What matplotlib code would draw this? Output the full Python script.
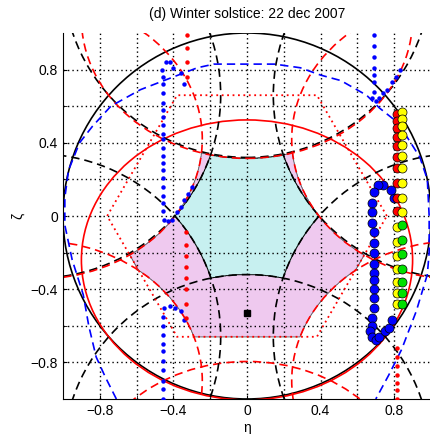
import numpy as np
import matplotlib
matplotlib.use("Agg")
import matplotlib.pyplot as plt
from matplotlib.patches import Ellipse, Circle, Polygon
from matplotlib.path import Path

plt.rcParams['font.family'] = ['Liberation Sans', 'DejaVu Sans']

# alias centres of the hexagonal grid (director cosines)
alias_eta = [0.0, 1.143, 1.143, 0.0, -1.143, -1.143]
alias_zeta = [1.32, 0.66, -0.66, -1.32, -0.66, 0.66]

# earth contour (ellipse): centre zeta, semi axes
earth_zeta0 = -0.24
earth_a = 0.90
earth_b = 0.765

# red dotted hexagon
hex_eta = [0.76, 0.38, -0.38, -0.76, -0.38, 0.38]
hex_zeta = [0.0, 0.66, 0.66, 0.0, -0.66, -0.66]

# blue dashed contour
blue_eta = [-0.71, -0.77, -0.82, -0.86, -0.89, -0.95, -0.99, -0.99, -0.97, -0.91, -0.84, -0.74,
            -0.58, -0.40, -0.27, -0.18, 0.15, 0.29, 0.40, 0.51, 0.65, 0.72, 0.82, 0.89, 0.94,
            0.98, 0.99, 0.99, 0.98, 0.92, 0.84, 0.77, 0.70]
blue_zeta = [-1.0, -0.88, -0.77, -0.60, -0.43, -0.24, -0.05, 0.10, 0.25, 0.40, 0.49, 0.60,
             0.69, 0.76, 0.81, 0.83, 0.83, 0.81, 0.77, 0.74, 0.66, 0.59, 0.51, 0.40, 0.32,
             0.20, 0.0, -0.20, -0.32, -0.52, -0.73, -0.87, -1.0]

# small blue dots, upper left track
b1_eta = [-0.34, -0.36, -0.40, -0.42, -0.44, -0.46] + [-0.455] * 18 + \
         [-0.45, -0.43, -0.41, -0.38, -0.36, -0.34, -0.32, -0.30]
b1_zeta = [0.72, 0.78, 0.81, 0.84, 0.84, 0.80,
           0.76, 0.72, 0.67, 0.62, 0.58, 0.54, 0.50, 0.45, 0.42, 0.37, 0.33, 0.29, 0.25,
           0.21, 0.16, 0.11, 0.07, 0.03,
           -0.02, -0.03, -0.02, 0.02, 0.05, 0.09, 0.12, 0.16]
# small blue dots, lower left track
b2_eta = [-0.45, -0.42, -0.39, -0.36, -0.34] + [-0.455] * 10
b2_zeta = [-0.50, -0.49, -0.50, -0.52, -0.57,
           -0.55, -0.60, -0.65, -0.70, -0.74, -0.79, -0.84, -0.90, -0.945, -1.0]
# small blue dots, upper right track
b3_eta = [0.69] * 7 + [0.68, 0.70, 0.72, 0.74, 0.76, 0.79, 0.81, 0.83]
b3_zeta = [0.99, 0.93, 0.87, 0.81, 0.77, 0.73, 0.68,
           0.645, 0.63, 0.645, 0.67, 0.69, 0.73, 0.76, 0.80]
# large blue circles, right track
b4_eta = [0.80, 0.78, 0.74, 0.71, 0.69, 0.68, 0.68, 0.68, 0.69, 0.69, 0.69, 0.69, 0.69,
          0.69, 0.69, 0.69, 0.69, 0.68, 0.68, 0.67, 0.68, 0.70, 0.72, 0.75, 0.77, 0.79]
b4_zeta = [0.10, 0.14, 0.17, 0.17, 0.13, 0.07, 0.02, -0.04, -0.09, -0.15, -0.20, -0.26,
           -0.31, -0.35, -0.40, -0.45, -0.50, -0.56, -0.60, -0.63, -0.66, -0.68, -0.66,
           -0.63, -0.61, -0.57]

# small red dots
r_eta = [-0.325] * 4 + [-0.33] * 8 + [0.815] * 7
r_zeta = [0.99, 0.92, 0.84, 0.76,
          -0.09, -0.16, -0.22, -0.28, -0.34, -0.40, -0.48, -0.56,
          -0.72, -0.77, -0.82, -0.87, -0.91, -0.95, -1.0]

# coloured circles near eta = 0.8
red_c_eta = [0.815] * 10
red_c_zeta = [0.56, 0.52, 0.48, 0.43, 0.38, 0.32, 0.26, 0.18, 0.10, 0.03]
yel_c_eta = [0.84] * 10 + [0.815] * 7
yel_c_zeta = [0.57, 0.53, 0.49, 0.44, 0.39, 0.33, 0.26, 0.18, 0.10, 0.02,
              -0.06, -0.14, -0.22, -0.29, -0.36, -0.42, -0.48]
grn_c_eta = [0.845] * 7
grn_c_zeta = [-0.05, -0.13, -0.21, -0.29, -0.36, -0.42, -0.48]

# boresight marker
sq_eta = [0.0]
sq_zeta = [-0.53]

ticks = [-0.8, -0.4, 0, 0.4, 0.8]
minor = [-0.6, -0.2, 0.2, 0.6]

pink_col = '#efc9ef'
cyan_col = '#c7f0f0'

fig = plt.figure(figsize=(4.30, 4.34), dpi=100)
ax = fig.add_axes([63 / 430, 35 / 434, 368 / 430, 366 / 434])

# alias free regions
g = np.linspace(-1, 1, 1201)
E, Z = np.meshgrid(g, g)
pts = np.column_stack([E.ravel(), Z.ravel()])
inside_hex = Path(np.column_stack([hex_eta, hex_zeta])).contains_points(pts).reshape(E.shape)
free_earth = np.ones(E.shape, bool)
free_sky = np.ones(E.shape, bool)
for ce, cz in zip(alias_eta, alias_zeta):
    free_earth &= ((E - ce) / earth_a) ** 2 + ((Z - cz - earth_zeta0) / earth_b) ** 2 > 1
    free_sky &= (E - ce) ** 2 + (Z - cz) ** 2 > 1
pink = (inside_hex & free_earth).astype(float)
cyan = (inside_hex & free_earth & free_sky).astype(float)

ax.contourf(E, Z, pink, levels=[0.5, 1.5], colors=[pink_col], zorder=1)
ax.contour(E, Z, pink, levels=[0.5], colors='0.35', linewidths=0.6, zorder=1.1)
ax.contourf(E, Z, cyan, levels=[0.5, 1.5], colors=[cyan_col], zorder=1.2)
ax.contour(E, Z, cyan, levels=[0.5], colors='k', linewidths=0.7, zorder=1.3)

# unit circle and earth contour
ax.add_patch(Circle((0, 0), 1.0, fill=False, ec='k', lw=1.2, zorder=2))
ax.add_patch(Ellipse((0, earth_zeta0), 2 * earth_a, 2 * earth_b, fill=False,
                     ec='r', lw=1.2, zorder=2))

# aliases
for ce, cz in zip(alias_eta, alias_zeta):
    ax.add_patch(Circle((ce, cz), 1.0, fill=False, ec='k', ls=(0, (5, 3)), lw=1.2, zorder=2))
    ax.add_patch(Ellipse((ce, cz + earth_zeta0), 2 * earth_a, 2 * earth_b, fill=False,
                         ec='r', ls=(0, (5, 3)), lw=1.2, zorder=2))

ax.add_patch(Polygon(np.column_stack([hex_eta, hex_zeta]), closed=True, fill=False,
                     ec='r', ls=(0, (1, 2)), lw=1.3, zorder=2))
ax.plot(blue_eta, blue_zeta, color='b', ls=(0, (5, 3)), lw=1.2, zorder=2)

# tracks
dot = dict(ls='none', marker='o', ms=3.2, mew=0, zorder=3)
ax.plot(b1_eta, b1_zeta, color='b', **dot)
ax.plot(b2_eta, b2_zeta, color='b', **dot)
ax.plot(b3_eta, b3_zeta, color='b', **dot)
ax.plot(r_eta, r_zeta, color='r', **dot)

big = dict(ls='none', marker='o', ms=6.5, mec='k', mew=0.5, zorder=4)
ax.plot(b4_eta, b4_zeta, mfc='b', **big)
ax.plot(red_c_eta, red_c_zeta, mfc='r', **big)
ax.plot(yel_c_eta, yel_c_zeta, mfc='yellow', **big)
ax.plot(grn_c_eta, grn_c_zeta, mfc='#00e000', **big)

ax.plot(sq_eta, sq_zeta, ls='none', marker='s', ms=4.5, color='k', zorder=4)

ax.set_xlim(-1, 1)
ax.set_ylim(-1, 1)
ax.set_aspect('auto')
ax.set_xticks(ticks)
ax.set_xticklabels(['\u22120.8', '\u22120.4', '0', '0.4', '0.8'])
ax.set_yticks(ticks)
ax.set_yticklabels(['\u22120.8', '\u22120.4', '0', '0.4', '0.8'])
ax.set_xticks(minor, minor=True)
ax.set_yticks(minor, minor=True)
ax.tick_params(which='both', direction='in', length=3, labelsize=10)
ax.set_axisbelow('line')
ax.grid(which='both', color='k', ls=(0, (1, 2.2)), lw=1.0)
for s in ['top', 'right']:
    ax.spines[s].set_visible(False)
ax.set_xlabel('\u03b7', fontsize=10, labelpad=2)
ax.set_ylabel('\u03b6', fontsize=10, labelpad=4)
ax.set_title('(d) Winter solstice: 22 dec 2007', fontsize=10, pad=11)

fig.savefig('out.png', dpi=100)
